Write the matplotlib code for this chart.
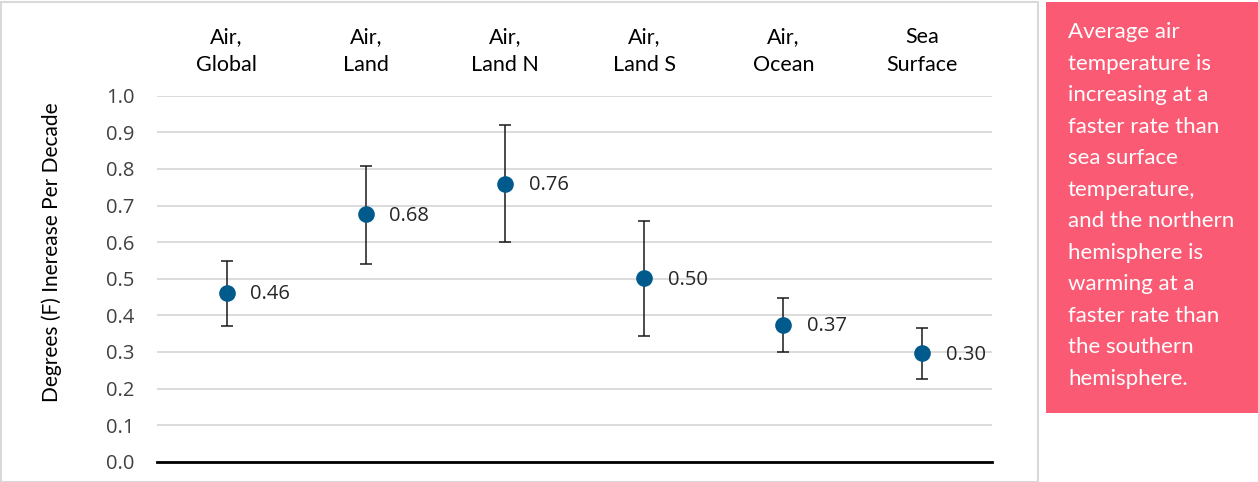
import matplotlib
matplotlib.use("Agg")
import matplotlib.pyplot as plt
from matplotlib.patches import Rectangle

categories = ["Air,\nGlobal", "Air,\nLand", "Air,\nLand N", "Air,\nLand S", "Air,\nOcean", "Sea\nSurface"]
values = [0.462, 0.676, 0.760, 0.501, 0.374, 0.296]
err_high = [0.547, 0.809, 0.921, 0.657, 0.448, 0.364]
err_low = [0.372, 0.540, 0.600, 0.343, 0.299, 0.225]
yticks = [0.0, 0.1, 0.2, 0.3, 0.4, 0.5, 0.6, 0.7, 0.8, 0.9, 1.0]
ylabel = "Degrees (F) Inerease Per Decade"
note = ("Average air\ntemperature is\nincreasing at a\nfaster rate than\nsea surface\ntemperature,\n"
        "and the northern\nhemisphere is\nwarming at a\nfaster rate than\nthe southern\nhemisphere.")

W, H = 1258, 482
fig = plt.figure(figsize=(W / 100, H / 100), dpi=100)

# chart border and separator
fig.patches.append(Rectangle((1 / W, 0), 1037 / W, (H - 1.5) / H, transform=fig.transFigure,
                             fill=False, edgecolor="#D9D9D9", linewidth=1.5))
# pink note box
fig.patches.append(Rectangle((1046 / W, (H - 412.5) / H), (W - 1046) / W, 410.5 / H,
                             transform=fig.transFigure, facecolor="#FA5A73", edgecolor="none"))
fig.text(1068 / W, (H - 22) / H, note, color="white", family="Lato", fontsize=16,
         ha="left", va="top", linespacing=1.72)

ax = fig.add_axes([157 / W, (H - 461.7) / H, (992 - 157) / W, (461.7 - 95.7) / H])
x = list(range(len(categories)))
yerr = [[v - lo for v, lo in zip(values, err_low)], [hi - v for v, hi in zip(values, err_high)]]
ax.errorbar(x, values, yerr=yerr, fmt="none", ecolor="#1a1a1a", elinewidth=1.1,
            capsize=4.5, capthick=1.1, zorder=3)
ax.plot(x, values, "o", color="#005B8C", markersize=12, markeredgewidth=0, zorder=4)
for xi, v in zip(x, values):
    ax.annotate(f"{v:.2f}", (xi, v), xytext=(17, -1), textcoords="offset points",
                va="center", ha="left", family="Open Sans", fontsize=14.5, color="#262626")

ax.set_xlim(-0.5, len(categories) - 0.5)
ax.set_ylim(0, 1.0)
ax.set_yticks(yticks)
ax.set_yticklabels([f"{t:.1f}" for t in yticks], family="Open Sans", fontsize=14.5, color="#404040")
ax.tick_params(axis="y", length=0, pad=16)
ax.set_xticks([])
ax.grid(axis="y", color="#D9D9D9", linewidth=1.3)
ax.set_axisbelow(True)
for s in ["top", "right", "left"]:
    ax.spines[s].set_visible(False)
ax.spines["bottom"].set_color("black")
ax.spines["bottom"].set_linewidth(2)
ax.spines["bottom"].set_zorder(5)

for xi, c in zip(x, categories):
    ax.text(xi, 1.0 + (96 - 51) / 366, c, ha="center", va="center", family="Lato",
            fontsize=15.5, color="black", linespacing=1.5,
            transform=ax.get_xaxis_transform())

fig.text(52 / W, (H - 252) / H, ylabel, rotation=90, ha="center", va="center",
         family="Lato", fontsize=15, color="black")

fig.savefig("out.png", dpi=100)
